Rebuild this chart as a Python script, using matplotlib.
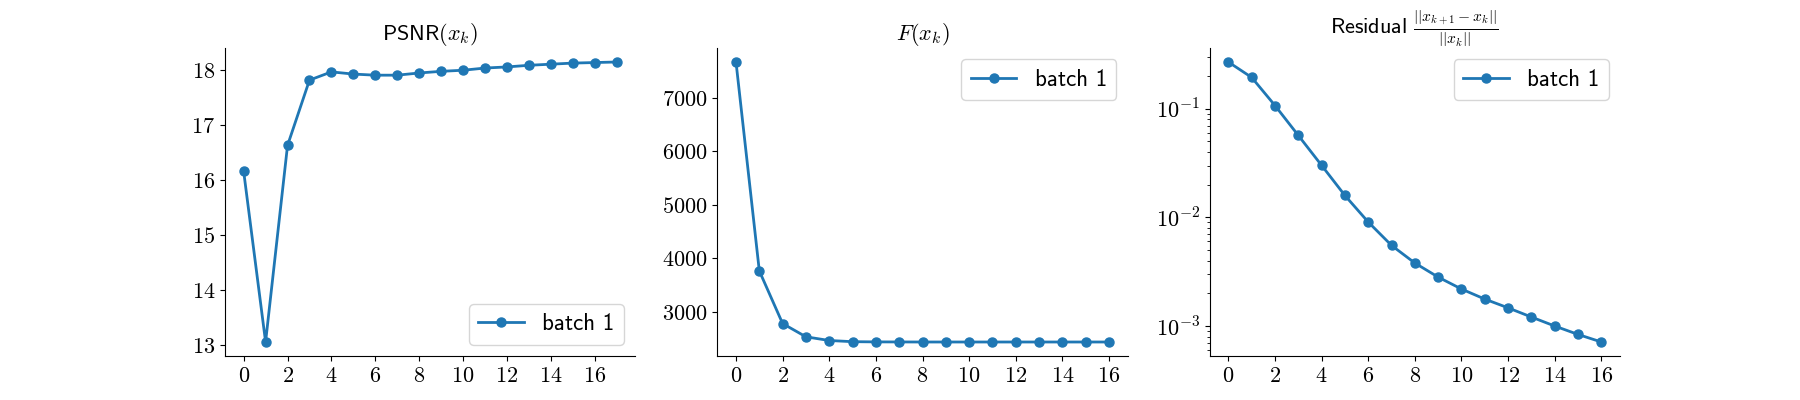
import numpy as np
import matplotlib
matplotlib.use("Agg")
import matplotlib.pyplot as plt
from matplotlib.ticker import FuncFormatter, LogLocator, NullFormatter

plt.rcParams['mathtext.fontset'] = 'cm'
plt.rcParams['font.size'] = 15

iters_psnr = list(range(18))
psnr = [16.16, 13.05, 16.63, 17.82, 17.97, 17.93, 17.91, 17.91, 17.95, 17.98,
        18.00, 18.04, 18.06, 18.09, 18.11, 18.13, 18.14, 18.15]

iters = list(range(17))
fval = [7673, 3766, 2781, 2533, 2464, 2442, 2438, 2437, 2436, 2436,
        2436, 2436, 2436, 2436, 2436, 2436, 2436]
resid = [0.269, 0.194, 0.107, 0.0568, 0.0301, 0.0159, 0.00906, 0.00552, 0.00380,
         0.00282, 0.00219, 0.00177, 0.00147, 0.00121, 0.00100, 0.000837, 0.000713]

label = "batch 1"
titles = [r"$\mathsf{PSNR}(x_k)$", r"$F(x_k)$",
          r"$\mathsf{Residual}\ \frac{||x_{k+1}-x_k||}{||x_k||}$"]

fig, axes = plt.subplots(1, 3, figsize=(18, 4), dpi=100)

lin_fmt = FuncFormatter(lambda v, p: r"$%g$" % v)
def log_fmt(v, p):
    e = int(round(np.log10(v)))
    return r"$10^{%d}$" % e

legend_prop = {'family': 'cmss10', 'size': 16.5}
style = dict(marker='o', color='#1f77b4', lw=2, markersize=6.5)

ax = axes[0]
ax.plot(iters_psnr, psnr, label=label, **style)
ax.legend(loc='lower right', prop=legend_prop)

ax = axes[1]
ax.plot(iters, fval, label=label, **style)
ax.legend(loc='upper right', prop=legend_prop)

ax = axes[2]
ax.plot(iters, resid, label=label, **style)
ax.set_yscale('log')
ax.legend(loc='upper right', prop=legend_prop)

for i, ax in enumerate(axes):
    ax.set_title(titles[i], fontsize=16)
    ax.spines['top'].set_visible(False)
    ax.spines['right'].set_visible(False)
    ax.xaxis.set_major_formatter(lin_fmt)
    ax.set_xticks(range(0, 17, 2))
    if i < 2:
        ax.yaxis.set_major_formatter(lin_fmt)
    else:
        ax.yaxis.set_major_locator(LogLocator(base=10))
        ax.yaxis.set_major_formatter(FuncFormatter(log_fmt))
        ax.yaxis.set_minor_formatter(NullFormatter())
    ax.tick_params(labelsize=16)

fig.savefig("out.png")
